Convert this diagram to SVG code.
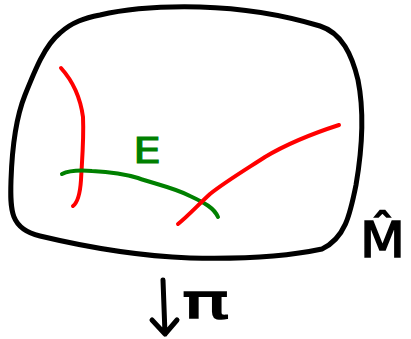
<svg xmlns="http://www.w3.org/2000/svg" width="411" height="339" viewBox="0 0 411 339">
<style>
.s{fill:none;stroke-linecap:round;stroke-linejoin:round}
.k{stroke:#000;stroke-width:5}
.r{stroke:#ff0000;stroke-width:4}
.g{stroke:#008000;stroke-width:4}
.t{font-family:"DejaVu Sans","Liberation Sans",sans-serif}
</style>
<rect width="411" height="339" fill="#fff"/>
<g id="space">
<path class="s k" d="M100,15 C130,8 160,6 200,7 C240,8 280,14 320,26 C342,33 352,55 358,80 C365,115 362,150 356,185 C350,215 345,238 322,249 C280,258 230,259 190,258 C140,256 90,248 40,236 C10,229 10,210 11,180 C12,150 15,120 25,95 C35,70 45,45 60,33 C72,22 85,18 100,15 Z"/>
</g>
<g id="connectors">
<path class="s r" d="M61,68 C70,78 80,95 83,117 C84,140 82,160 81,180 C80,195 77,203 73,206"/>
<path class="s g" d="M62,174 C70,170 80,170 92,171 C110,172 125,174 138,178 C155,184 175,188 190,196 C205,203 214,208 218,217"/>
<path class="s r" d="M178,224 C188,216 198,205 210,194 C225,182 245,170 265,157 C285,145 305,136 339,125"/>
<path class="s k" d="M163,280 L165,334 M152,320 L165,334 L177,320"/>
</g>
<g id="labels">
<text class="t" x="133" y="163" font-size="36" fill="#008000" stroke="#008000" stroke-width="1" textLength="28" lengthAdjust="spacingAndGlyphs">E</text>
<text class="t" x="360" y="257" font-size="50" fill="#000" stroke="#000" stroke-width="1.5" textLength="45" lengthAdjust="spacingAndGlyphs">M&#x302;</text>
<text class="t" x="182" y="318" font-size="48" fill="#000" stroke="#000" stroke-width="1.5" textLength="47" lengthAdjust="spacingAndGlyphs">π</text>
</g>
</svg>
